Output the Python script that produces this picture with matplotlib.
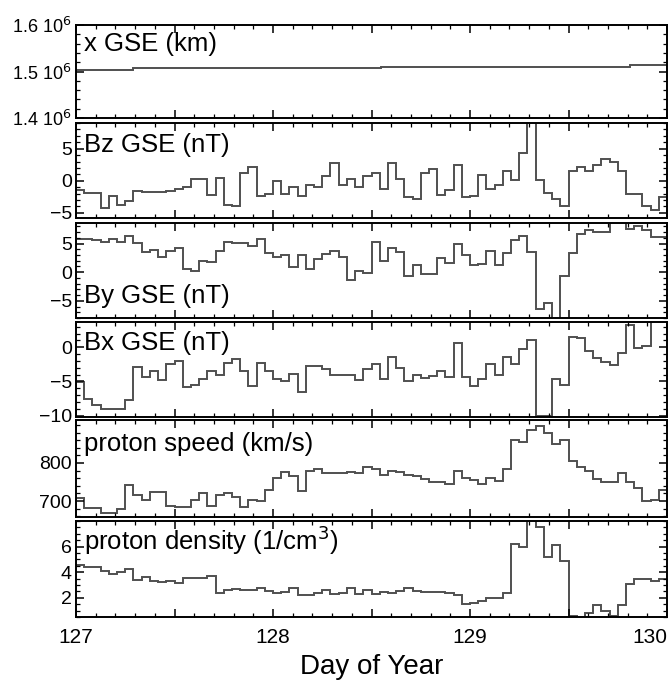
import numpy as np
import matplotlib
matplotlib.use("Agg")
import matplotlib.pyplot as plt
from matplotlib.ticker import MultipleLocator, FixedLocator, FuncFormatter

plt.rcParams['font.family'] = ['Liberation Sans', 'DejaVu Sans']

# hourly bins, day of year 127 -> 130
hours = np.arange(73)
edges = 127 + hours / 24.0

# spacecraft x position (km): step changes
xgse_t = [127.0, 127.29, 128.55, 129.81, 130.0]
xgse = [1.504e6, 1.507e6, 1.510e6, 1.514e6]

bz = [-1.4, -1.9, -1.9, -4.2, -2.3, -3.75, -3.2, -1.6, -1.8, -1.8,
      -1.8, -1.6, -1.3, -1.0, 0.3, 0.3, -2.2, 0.5, -3.75, -4.0,
      1.2, 2.2, -2.3, -2.1, -0.1, -2.1, -1.0, -2.3, -0.6, -1.0,
      0.7, 2.8, -0.6, 0.3, -1.0, 0.7, 1.2, -1.3, 2.8, 0.3,
      -2.6, -2.8, 1.2, 1.9, -2.2, -1.4, 2.5, -2.55, -2.3, 0.9,
      -1.25, -0.6, 1.5, 0.05, 4.3, 9.5, 0.15, -1.9, -2.9, -4.0,
      1.5, 2.2, 1.5, 2.5, 3.4, 3.0, 1.6, -2.1, -2.1, -4.0,
      -4.5, -2.6]

by = [5.8, 5.8, 5.65, 5.2, 5.8, 5.2, 6.25, 5.05, 3.6, 3.9,
      2.7, 3.75, 4.2, 0.5, 0.2, 1.9, 1.8, 3.75, 5.2, 5.1,
      5.05, 4.5, 5.8, 3.4, 2.6, 3.0, 0.9, 3.0, 0.5, 2.3,
      3.1, 3.75, 2.7, -1.4, 0.2, -0.1, 5.35, 1.9, 4.2, 3.6,
      -0.6, 1.2, -0.3, -0.3, 2.5, 1.6, 4.9, 3.0, 1.2, 1.4,
      3.75, 1.2, 3.3, 5.65, 6.25, 3.6, -6.4, -5.4, -9.5, -0.6,
      3.3, 6.7, 7.3, 7.0, 7.0, 8.7, 8.8, 7.6, 8.0, 7.3,
      6.1, 6.1]

bx = [-5.1, -7.6, -8.4, -9.0, -9.0, -9.0, -7.7, -2.85, -4.4, -3.5,
      -4.8, -2.5, -2.0, -5.8, -5.5, -4.6, -3.4, -4.1, -2.3, -1.75,
      -3.4, -5.6, -2.3, -3.4, -4.6, -5.0, -3.9, -6.5, -2.8, -2.8,
      -3.2, -4.1, -4.1, -4.1, -4.8, -3.2, -2.4, -4.6, -1.35, -3.1,
      -4.9, -4.0, -4.5, -4.2, -3.5, -4.4, 0.65, -4.4, -5.6, -4.6,
      -2.4, -4.0, -1.35, -2.4, -0.25, 1.0, -10.0, -10.0, -4.6, -5.5,
      1.5, 1.3, -0.6, -1.6, -2.1, -2.6, -0.85, 3.2, -0.1, 0.15,
      3.8, 3.8]

speed = [707, 681, 681, 669, 669, 678, 742, 716, 704, 723,
         725, 687, 683, 683, 703, 722, 687, 716, 722, 711,
         683, 703, 701, 729, 760, 775, 765, 727, 778, 785,
         773, 773, 773, 776, 773, 789, 784, 769, 780, 775,
         769, 765, 758, 749, 751, 744, 778, 760, 754, 745,
         760, 753, 784, 860, 855, 888, 897, 880, 849, 860,
         804, 789, 778, 758, 750, 751, 773, 751, 734, 700,
         703, 729]

density = [4.6, 4.4, 4.4, 4.1, 3.87, 4.0, 4.27, 3.4, 3.6, 3.28,
           3.2, 3.28, 3.15, 3.52, 3.52, 3.52, 3.73, 2.4, 2.6, 2.67,
           2.6, 2.6, 2.8, 2.53, 2.35, 2.48, 2.8, 2.24, 2.24, 2.35,
           2.6, 2.27, 2.35, 2.8, 2.27, 2.6, 2.27, 2.48, 2.35, 2.53,
           2.8, 2.53, 2.45, 2.45, 2.45, 2.4, 2.19, 1.52, 1.6, 1.73,
           2.0, 2.0, 2.35, 6.2, 6.0, 8.5, 7.5, 5.2, 6.1, 4.85,
           0.55, 0.3, 0.85, 1.47, 1.0, 0.6, 1.47, 3.07, 3.47, 3.47,
           3.33, 3.5]

W, H = 671, 689
fig = plt.figure(figsize=(W / 100, H / 100), dpi=100)

# panel boxes in pixels (top, bottom)
boxes = [(25, 118), (123, 218), (223, 318), (322, 417), (420, 517), (521, 617)]
left, right = 76, 667
axes = []
for top, bot in boxes:
    ax = fig.add_axes([left / W, 1 - bot / H, (right - left) / W, (bot - top) / H])
    axes.append(ax)

LC = '#505050'
LW = 1.4

def style(ax, label, ly, ylim, major, minor):
    ax.set_xlim(127, 130)
    ax.set_ylim(*ylim)
    ax.xaxis.set_major_locator(MultipleLocator(0.5))
    ax.xaxis.set_minor_locator(MultipleLocator(0.1))
    if major is not None:
        ax.yaxis.set_major_locator(FixedLocator(major))
    if minor is not None:
        ax.yaxis.set_minor_locator(MultipleLocator(minor))
    ax.tick_params(which='both', direction='in', top=True, right=True,
                   labelsize=14, pad=3)
    ax.tick_params(which='major', length=6, width=1.1)
    ax.tick_params(which='minor', length=3, width=0.9)
    ax.tick_params(axis='x', labelbottom=False)
    for s in ax.spines.values():
        s.set_linewidth(1.4)
    ax.text(0.013, ly, label, transform=ax.transAxes, fontsize=18.5,
            ha='left', va='center')

# x GSE
ax = axes[0]
ax.stairs(xgse, xgse_t, color=LC, lw=LW, baseline=None)
style(ax, 'x GSE (km)', 0.8, (1.4e6, 1.6e6), [1.4e6, 1.5e6, 1.6e6], 0.02e6)
ax.yaxis.set_major_formatter(FuncFormatter(lambda v, p: '%.1f 10$^6$' % (v / 1e6)))
ax.tick_params(axis='y', labelsize=13)

ax = axes[1]
ax.stairs(bz, edges, color=LC, lw=LW, baseline=None)
style(ax, 'Bz GSE (nT)', 0.77, (-5.8, 9.0), [-5, 0, 5], 1)

ax = axes[2]
ax.stairs(by, edges, color=LC, lw=LW, baseline=None)
style(ax, 'By GSE (nT)', 0.23, (-8.0, 8.6), [-5, 0, 5], 1)

ax = axes[3]
ax.stairs(bx, edges, color=LC, lw=LW, baseline=None)
style(ax, 'Bx GSE (nT)', 0.78, (-10.2, 3.7), [-10, -5, 0], 1)

ax = axes[4]
ax.stairs(speed, edges, color=LC, lw=LW, baseline=None)
style(ax, 'proton speed (km/s)', 0.75, (658, 913), [700, 800], 20)

ax = axes[5]
ax.stairs(density, edges, color=LC, lw=LW, baseline=None)
style(ax, 'proton density (1/cm$^3$)', 0.8, (0.5, 8.0), [2, 4, 6], 0.5)
ax.tick_params(axis='x', labelbottom=True, labelsize=15, pad=8)
ax.xaxis.set_major_formatter(FuncFormatter(lambda v, p: '%d' % round(v) if abs(v - round(v)) < 1e-6 else ''))
ax.set_xlabel('Day of Year', fontsize=20, labelpad=5)

fig.canvas.draw()
for t in ax.xaxis.get_major_ticks():
    if t.label1.get_text() == '130':
        t.label1.set_horizontalalignment('right')

fig.savefig('out.png', dpi=100)
